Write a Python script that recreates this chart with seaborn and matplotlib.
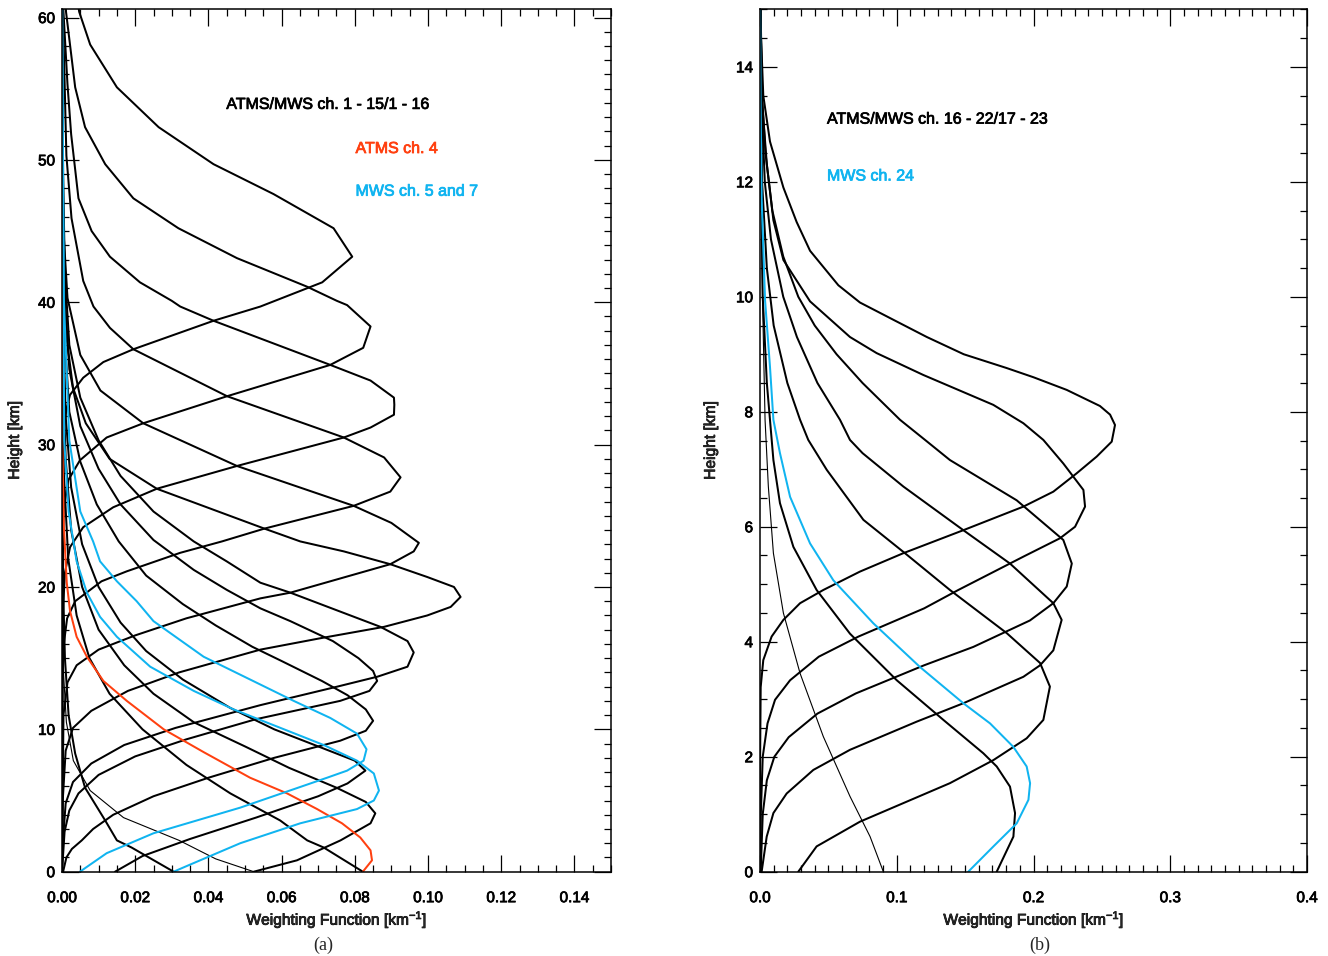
import matplotlib
matplotlib.use("Agg")
import matplotlib.pyplot as plt
import matplotlib.patheffects as pe
import seaborn as sns
from matplotlib.ticker import MultipleLocator, FormatStrFormatter

# ---------------- Panel (a): ATMS/MWS ch. 1-15 / 1-16 (height km, weighting km^-1) ----------------
c1_h = [62.0, 60.4, 58.1, 55.1, 52.3, 49.7, 47.6, 45.2, 43.2, 41.4, 39.7, 38.7, 36.7, 35.8, 34.7, 33.5, 32.6, 31.0, 28.0, 0.0]
c1_w = [0.0037, 0.0047, 0.0077, 0.0150, 0.0264, 0.0414, 0.0578, 0.0742, 0.0793, 0.0711, 0.0542, 0.0414, 0.0195, 0.0113, 0.0058, 0.0022, 0.0013, 0.0004, 0.0001, 0.0]

c2_h = [62.0, 60.4, 55.1, 52.3, 49.7, 47.3, 45.2, 43.1, 41.1, 40.1, 39.8, 38.3, 36.8, 35.6, 33.4, 31.5, 30.5, 28.9, 27.5, 25.5, 22.0, 0.0]
c2_w = [0.0008, 0.0011, 0.0036, 0.0063, 0.0118, 0.0195, 0.0318, 0.0478, 0.0669, 0.0751, 0.0779, 0.0843, 0.0823, 0.0733, 0.0451, 0.0222, 0.0122, 0.0049, 0.0017, 0.0005, 0.0001, 0.0]

c3_h = [62.0, 60.4, 55.3, 51.8, 47.3, 45.0, 43.2, 41.4, 40.1, 39.7, 38.7, 35.6, 34.5, 33.3, 32.8, 32.1, 31.2, 30.5, 28.5, 26.9, 25.6, 24.2, 22.8, 21.0, 18.0, 0.0]
c3_w = [0.0002, 0.0004, 0.0015, 0.0025, 0.0045, 0.0081, 0.0131, 0.0213, 0.0300, 0.0323, 0.0414, 0.0733, 0.0843, 0.0907, 0.0908, 0.0907, 0.0843, 0.0770, 0.0478, 0.0259, 0.0140, 0.0058, 0.0022, 0.0008, 0.0002, 0.0]

c4_h = [62.0, 50.3, 45.9, 41.5, 39.7, 38.2, 36.7, 33.4, 30.5, 29.1, 27.7, 26.7, 25.7, 24.1, 23.2, 22.4, 21.1, 20.4, 19.0, 17.8, 16.0, 13.0, 0.0]
c4_w = [0.0001, 0.0012, 0.0026, 0.0058, 0.0086, 0.0131, 0.0195, 0.0451, 0.0770, 0.0880, 0.0925, 0.0897, 0.0797, 0.0553, 0.0437, 0.0323, 0.0177, 0.0108, 0.0036, 0.0014, 0.0005, 0.0001, 0.0]

c5_h = [62.0, 45.0, 40.3, 36.3, 33.8, 31.5, 28.5, 25.7, 24.5, 23.1, 22.5, 21.6, 19.6, 19.2, 17.8, 16.6, 15.6, 14.5, 13.3, 11.0, 0.0]
c5_w = [0.0, 0.0004, 0.0015, 0.0050, 0.0105, 0.0222, 0.0478, 0.0797, 0.0900, 0.0975, 0.0961, 0.0897, 0.0624, 0.0542, 0.0340, 0.0200, 0.0100, 0.0040, 0.0015, 0.0004, 0.0]

c6_h = [62.0, 45.0, 38.0, 34.0, 31.5, 29.0, 26.9, 24.1, 23.2, 22.5, 21.6, 20.7, 20.0, 19.3, 18.6, 18.0, 17.2, 16.4, 15.6, 14.0, 12.7, 11.3, 10.1, 8.5, 5.0, 0.0]
c6_w = [0.0, 0.0002, 0.0010, 0.0030, 0.0065, 0.0130, 0.0259, 0.0553, 0.0651, 0.0770, 0.0897, 0.0998, 0.1071, 0.1089, 0.1062, 0.0998, 0.0880, 0.0706, 0.0542, 0.0320, 0.0180, 0.0080, 0.0030, 0.0010, 0.0002, 0.0]

c7_h = [62.0, 50.0, 42.0, 37.0, 33.3, 30.3, 27.8, 25.3, 23.2, 21.8, 20.3, 19.6, 17.2, 16.2, 15.4, 14.4, 13.7, 13.0, 11.7, 10.1, 8.9, 7.6, 6.3, 4.8, 2.0, 0.0]
c7_w = [0.0, 0.0002, 0.0008, 0.0020, 0.0050, 0.0100, 0.0160, 0.0250, 0.0360, 0.0450, 0.0542, 0.0624, 0.0870, 0.0944, 0.0961, 0.0944, 0.0862, 0.0752, 0.0542, 0.0310, 0.0170, 0.0080, 0.0030, 0.0010, 0.0002, 0.0]

c8_h = [62.0, 48.0, 40.3, 35.3, 31.3, 28.3, 25.8, 23.3, 21.2, 19.8, 18.5, 17.6, 16.2, 15.0, 14.1, 13.4, 12.7, 12.0, 10.7, 9.3, 8.1, 6.8, 5.5, 4.3, 2.8, 0.0]
c8_w = [0.0, 0.0002, 0.0008, 0.0020, 0.0050, 0.0100, 0.0160, 0.0250, 0.0360, 0.0450, 0.0542, 0.0624, 0.0740, 0.0810, 0.0850, 0.0861, 0.0840, 0.0760, 0.0528, 0.0340, 0.0200, 0.0100, 0.0045, 0.0020, 0.0007, 0.0]

c9_h = [62.0, 45.0, 37.3, 32.3, 28.8, 25.8, 23.2, 20.8, 18.8, 17.3, 15.8, 14.8, 13.4, 12.4, 11.4, 10.6, 9.9, 9.2, 8.0, 6.6, 5.3, 4.0, 3.0, 2.2, 1.6, 1.0, 0.0]
c9_w = [0.0, 0.0002, 0.0008, 0.0020, 0.0050, 0.0095, 0.0155, 0.0230, 0.0330, 0.0420, 0.0520, 0.0600, 0.0710, 0.0780, 0.0830, 0.0850, 0.0830, 0.0760, 0.0580, 0.0400, 0.0250, 0.0140, 0.0085, 0.0054, 0.0027, 0.0012, 0.0003]

c11_h = [62.0, 40.0, 32.0, 27.0, 23.0, 20.0, 17.5, 15.5, 13.5, 11.5, 10.0, 8.7, 7.8, 7.1, 6.2, 5.3, 3.8, 2.3, 1.1, 0.0]
c11_w = [0.0, 0.0002, 0.0010, 0.0025, 0.0055, 0.0100, 0.0160, 0.0230, 0.0330, 0.0460, 0.0580, 0.0710, 0.0800, 0.0829, 0.0780, 0.0700, 0.0530, 0.0350, 0.0220, 0.0145]

c13_h = [62.0, 36.0, 29.0, 24.0, 20.0, 17.0, 14.5, 12.5, 10.5, 8.8, 7.3, 5.9, 4.9, 4.1, 3.4, 2.2, 0.8, 0.0]
c13_w = [0.0, 0.0002, 0.0010, 0.0025, 0.0055, 0.0100, 0.0170, 0.0250, 0.0360, 0.0500, 0.0620, 0.0750, 0.0830, 0.0856, 0.0843, 0.0761, 0.0642, 0.0524]

surf_h = [62.0, 40.0, 28.0, 22.0, 18.0, 15.0, 12.5, 10.0, 7.5, 5.5, 3.6, 2.2, 1.7, 0.0]
surf_w = [0.0, 0.0001, 0.0005, 0.0017, 0.0040, 0.0075, 0.0130, 0.0220, 0.0340, 0.0460, 0.0596, 0.0670, 0.0715, 0.0822]

win_h = [62.0, 20.0, 15.0, 11.0, 8.3, 5.9, 3.6, 2.2, 1.7, 0.0]
win_w = [0.0, 0.0003, 0.0008, 0.0018, 0.0036, 0.0063, 0.0118, 0.0150, 0.0190, 0.0305]

thin_h = [62.0, 14.0, 10.5, 7.8, 5.7, 3.8, 2.2, 0.9, 0.0]
thin_w = [0.0, 0.0004, 0.0012, 0.0031, 0.0077, 0.0168, 0.0320, 0.0420, 0.0524]

# MWS ch. 5 and 7 (blue)
mws5_h = [62.0, 40.3, 30.3, 25.3, 23.2, 21.8, 20.4, 19.0, 17.6, 15.1, 12.0, 10.8, 9.7, 8.6, 7.8, 7.1, 6.6, 4.5, 2.7, 1.3, 0.0]
mws5_w = [0.0, 0.0005, 0.0020, 0.0050, 0.0085, 0.0104, 0.0150, 0.0204, 0.0250, 0.0387, 0.0633, 0.0733, 0.0806, 0.0832, 0.0824, 0.0779, 0.0724, 0.0487, 0.0250, 0.0122, 0.0049]

mws7_h = [62.0, 30.3, 25.3, 21.8, 19.6, 17.9, 16.5, 14.4, 12.7, 11.4, 10.1, 8.9, 7.8, 6.9, 5.7, 5.0, 4.4, 3.4, 2.0, 0.4, 0.0]
mws7_w = [0.0, 0.0006, 0.0018, 0.0040, 0.0068, 0.0104, 0.0150, 0.0241, 0.0360, 0.0469, 0.0597, 0.0715, 0.0806, 0.0852, 0.0866, 0.0852, 0.0806, 0.0651, 0.0487, 0.0341, 0.0305]

# ATMS ch. 4 (red)
atms4_h = [62.0, 30.0, 24.3, 20.3, 18.3, 16.5, 15.1, 13.4, 12.0, 10.0, 8.4, 6.6, 5.5, 4.4, 3.4, 2.4, 1.5, 0.8, 0.0]
atms4_w = [0.0, 0.0001, 0.0005, 0.0013, 0.0022, 0.0040, 0.0068, 0.0113, 0.0177, 0.0278, 0.0387, 0.0514, 0.0615, 0.0697, 0.0765, 0.0815, 0.0843, 0.0847, 0.0822]

# ---------------- Panel (b): ATMS/MWS ch. 16-22 / 17-23 ----------------
r1_h = [15.5, 14.5, 13.5, 12.7, 11.9, 11.3, 10.8, 10.2, 9.9, 9.6, 9.3, 9.0, 8.76, 8.6, 8.38, 8.1, 7.95, 7.77, 7.48, 7.22, 6.93, 6.61, 6.35, 5.94, 5.54, 5.22, 4.9, 4.67, 4.38, 4.09, 3.68, 3.21, 2.0, 0.0]
r1_w = [0.0002, 0.0008, 0.0024, 0.0073, 0.0171, 0.0268, 0.0366, 0.0573, 0.0731, 0.0975, 0.1220, 0.1490, 0.1804, 0.2000, 0.2243, 0.2486, 0.2560, 0.2596, 0.2572, 0.2462, 0.2316, 0.2145, 0.1926, 0.1487, 0.1048, 0.0731, 0.0463, 0.0293, 0.0171, 0.0085, 0.0024, 0.0005, 0.0001, 0.0]

r2_h = [15.5, 13.4, 12.3, 11.33, 10.64, 9.92, 9.3, 9.02, 8.64, 8.12, 7.8, 7.51, 7.1, 6.64, 6.35, 6.0, 5.8, 5.48, 4.9, 4.58, 4.09, 3.74, 3.33, 2.99, 2.58, 2.0, 1.0, 0.0]
r2_w = [0.0, 0.0015, 0.0050, 0.0098, 0.0171, 0.0366, 0.0658, 0.0853, 0.1194, 0.1706, 0.1926, 0.2072, 0.2218, 0.2365, 0.2377, 0.2304, 0.2194, 0.1926, 0.1450, 0.1200, 0.0720, 0.0430, 0.0220, 0.0110, 0.0055, 0.0020, 0.0006, 0.0002]

r3_h = [15.5, 13.5, 12.5, 11.5, 10.7, 10.0, 9.5, 9.0, 8.5, 7.86, 7.51, 7.16, 6.81, 6.46, 5.77, 5.36, 4.96, 4.67, 4.37, 3.91, 3.59, 3.1, 2.75, 2.34, 2.0, 1.59, 1.0, 0.0]
r3_w = [0.0, 0.0015, 0.0040, 0.0090, 0.0170, 0.0280, 0.0400, 0.0560, 0.0750, 0.1024, 0.1207, 0.1389, 0.1633, 0.1877, 0.2218, 0.2280, 0.2243, 0.2145, 0.1974, 0.1560, 0.1200, 0.0700, 0.0420, 0.0210, 0.0105, 0.0050, 0.0020, 0.0005]

r4_h = [15.5, 13.5, 12.0, 11.0, 10.0, 9.3, 8.5, 7.86, 7.51, 7.28, 6.7, 5.94, 5.36, 4.67, 4.38, 3.85, 3.59, 3.39, 2.93, 2.61, 2.12, 1.77, 1.36, 1.02, 0.61, 0.0]
r4_w = [0.0, 0.0010, 0.0035, 0.0080, 0.0170, 0.0270, 0.0420, 0.0585, 0.0658, 0.0750, 0.1048, 0.1487, 0.1828, 0.2145, 0.2206, 0.2145, 0.2048, 0.1926, 0.1487, 0.1146, 0.0658, 0.0390, 0.0195, 0.0098, 0.0049, 0.0012]

r5_h = [15.5, 12.0, 10.5, 9.5, 8.5, 7.86, 7.51, 6.99, 6.12, 5.54, 4.9, 4.15, 3.63, 3.22, 2.64, 2.32, 1.94, 1.54, 0.87, 0.44, 0.0]
r5_w = [0.0, 0.0015, 0.0050, 0.0100, 0.0200, 0.0293, 0.0353, 0.0488, 0.0756, 0.1060, 0.1389, 0.1804, 0.2048, 0.2120, 0.2072, 0.1950, 0.1706, 0.1389, 0.0731, 0.0414, 0.0280]

r6_h = [15.5, 12.0, 10.0, 8.5, 7.86, 7.16, 6.41, 5.65, 4.9, 4.14, 3.33, 2.64, 2.06, 1.83, 1.48, 1.02, 0.61, 0.0]
r6_w = [0.0, 0.0008, 0.0020, 0.0050, 0.0073, 0.0098, 0.0146, 0.0244, 0.0414, 0.0658, 0.1000, 0.1341, 0.1633, 0.1731, 0.1828, 0.1865, 0.1853, 0.1731]

r7_h = [15.5, 12.0, 10.0, 7.86, 6.7, 5.54, 4.5, 3.45, 2.35, 1.31, 0.61, 0.0]
r7_w = [0.0, 0.0008, 0.0018, 0.0037, 0.0061, 0.0098, 0.0171, 0.0293, 0.0463, 0.0658, 0.0805, 0.0902]

# MWS ch. 24 (blue)
mws24_h = [15.5, 13.4, 11.7, 9.94, 8.78, 7.86, 7.28, 6.52, 5.71, 5.07, 4.32, 3.56, 2.93, 2.58, 2.17, 1.83, 1.54, 1.25, 0.84, 0.44, 0.0]
mws24_w = [0.0, 0.0004, 0.0012, 0.0037, 0.0073, 0.0098, 0.0146, 0.0220, 0.0366, 0.0536, 0.0829, 0.1170, 0.1487, 0.1682, 0.1853, 0.1950, 0.1975, 0.1963, 0.1877, 0.1707, 0.1523]

# ---------------- styling ----------------
sns.set_style("ticks")
plt.rcParams['font.family'] = ['Liberation Sans', 'DejaVu Sans']
plt.rcParams['mathtext.fontset'] = 'custom'
plt.rcParams['mathtext.rm'] = 'Liberation Sans'
plt.rcParams['mathtext.it'] = 'Liberation Sans:italic'
plt.rcParams['mathtext.bf'] = 'Liberation Sans:bold'

BLACK = '#000000'
BLUE = '#10b4f0'
RED = '#ff4010'
LW = 1.45
THIN = 0.8


def heavy(col):
    return [pe.withStroke(linewidth=0.55, foreground=col)]


fig = plt.figure(figsize=(13.28, 9.56), dpi=100)
axL = fig.add_axes([62 / 1328, 84.3 / 956, 549 / 1328, 862.7 / 956])
axR = fig.add_axes([760 / 1328, 84.3 / 956, 547 / 1328, 862.4 / 956])

left_curves = [
    (c1_h, c1_w, BLACK, LW), (c2_h, c2_w, BLACK, LW), (c3_h, c3_w, BLACK, LW),
    (c4_h, c4_w, BLACK, LW), (c5_h, c5_w, BLACK, LW), (c6_h, c6_w, BLACK, LW),
    (c7_h, c7_w, BLACK, LW), (c8_h, c8_w, BLACK, LW), (c9_h, c9_w, BLACK, LW),
    (c11_h, c11_w, BLACK, LW), (c13_h, c13_w, BLACK, LW), (surf_h, surf_w, BLACK, LW),
    (win_h, win_w, BLACK, LW), (thin_h, thin_w, BLACK, THIN),
    (atms4_h, atms4_w, RED, LW), (mws5_h, mws5_w, BLUE, LW), (mws7_h, mws7_w, BLUE, LW),
]
right_curves = [
    (r1_h, r1_w, BLACK, LW), (r2_h, r2_w, BLACK, LW), (r3_h, r3_w, BLACK, LW),
    (r4_h, r4_w, BLACK, LW), (r5_h, r5_w, BLACK, LW), (r6_h, r6_w, BLACK, LW),
    (r7_h, r7_w, BLACK, THIN), (mws24_h, mws24_w, BLUE, LW),
]

for ax, curves in ((axL, left_curves), (axR, right_curves)):
    for h, w, col, lw in curves:
        sns.lineplot(x=w, y=h, sort=False, estimator=None, errorbar=None,
                     color=col, linewidth=lw, ax=ax)


def style_axis(ax, xmax, ymax, xmaj, xmin, ymaj, ymin, xfmt):
    ax.set_xlim(0, xmax)
    ax.set_ylim(0, ymax)
    ax.xaxis.set_major_locator(MultipleLocator(xmaj))
    ax.xaxis.set_minor_locator(MultipleLocator(xmin))
    ax.yaxis.set_major_locator(MultipleLocator(ymaj))
    ax.yaxis.set_minor_locator(MultipleLocator(ymin))
    ax.xaxis.set_major_formatter(FormatStrFormatter(xfmt))
    ax.yaxis.set_major_formatter(FormatStrFormatter('%d'))
    ax.tick_params(which='both', direction='in', top=True, right=True,
                   width=0.9, color='black', labelcolor='black')
    ax.tick_params(which='major', length=12, labelsize=11)
    ax.tick_params(axis='x', which='major', pad=14)
    ax.tick_params(axis='y', which='major', pad=5)
    ax.tick_params(which='minor', length=5)
    for s in ax.spines.values():
        s.set_linewidth(1.1)
        s.set_color('black')
    ax.set_xlabel('Weighting Function [km$^{-1}$]', fontsize=11.2)
    ax.set_ylabel('Height [km]', fontsize=11.2)
    ax.xaxis.label.set_va('center')
    ax.xaxis.label.set_path_effects(heavy('black'))
    ax.yaxis.label.set_path_effects(heavy('black'))
    for lab in ax.get_xticklabels() + ax.get_yticklabels():
        lab.set_path_effects(heavy('black'))


style_axis(axL, 0.15, 60.6, 0.02, 0.005, 10, 1, '%.2f')
style_axis(axR, 0.4, 15.0, 0.1, 0.01, 2, 0.5, '%.1f')

axL.xaxis.set_label_coords(0.5, -0.0548)
axR.xaxis.set_label_coords(0.5, -0.0548)
axL.yaxis.set_label_coords(-0.073, 0.5)
axR.yaxis.set_label_coords(-0.077, 0.5)

annotations = [
    (axL, 0.0449, 53.9, 'ATMS/MWS ch. 1 - 15/1 - 16', BLACK),
    (axL, 0.0802, 50.8, 'ATMS ch. 4', RED),
    (axL, 0.0802, 47.8, 'MWS ch. 5 and 7', BLUE),
    (axR, 0.049, 13.09, 'ATMS/MWS ch. 16 - 22/17 - 23', BLACK),
    (axR, 0.049, 12.1, 'MWS ch. 24', BLUE),
]
for ax, x, y, s, col in annotations:
    ax.text(x, y, s, fontsize=11.5, color=col, va='center', path_effects=heavy(col))

for xf, s in ((323 / 1328, '(a)'), (1040 / 1328, '(b)')):
    fig.text(xf, 1 - 945 / 956, s, fontsize=13, family=['Liberation Serif', 'DejaVu Serif'],
             ha='center', va='center')

fig.savefig('out.png', dpi=100)
